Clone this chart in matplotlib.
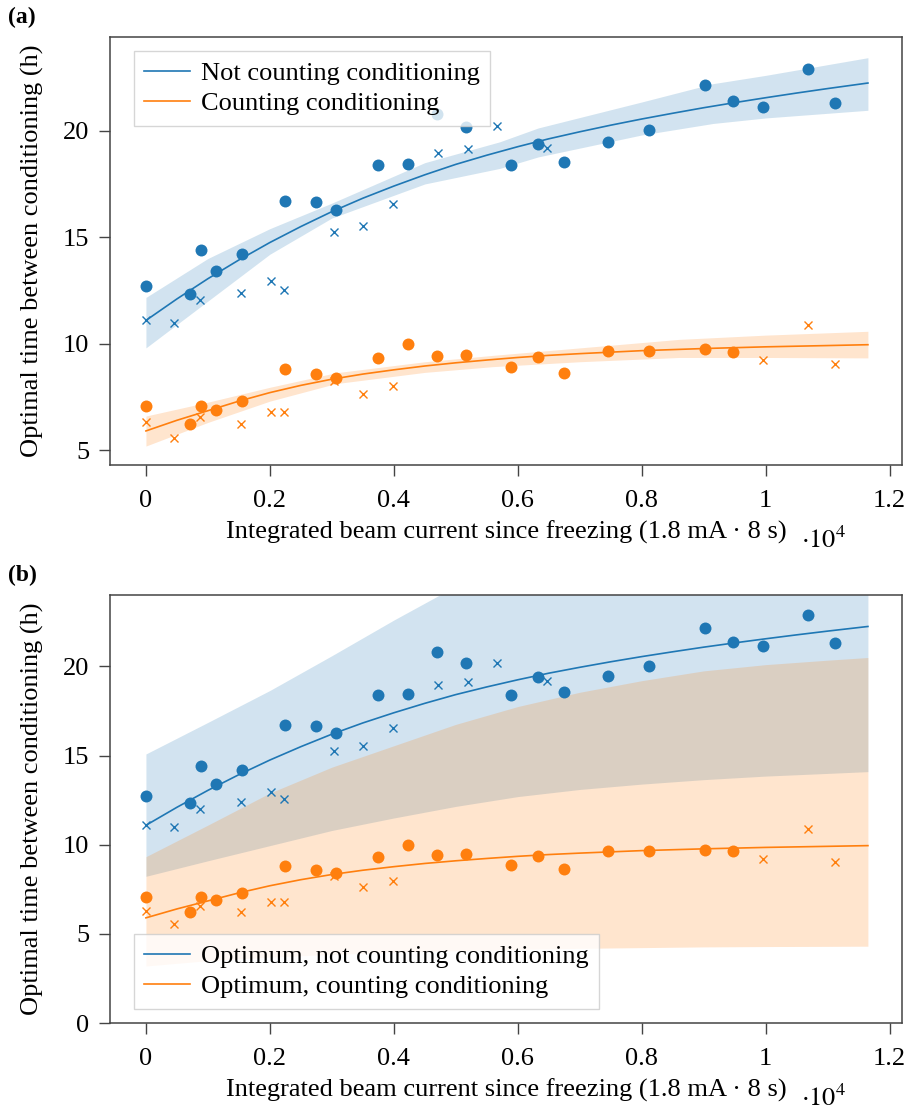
import numpy as np
import matplotlib
matplotlib.use("Agg")
import matplotlib.pyplot as plt
from matplotlib.ticker import FuncFormatter

plt.rcParams['font.family'] = ['Liberation Serif', 'DejaVu Serif']
plt.rcParams['mathtext.fontset'] = 'stix'

BLUE = '#1f77b4'
ORANGE = '#ff7f0e'
FS = 19

# measured points (x in units of 1.8 mA * 8 s)
circ_x = [0, 710, 890, 1130, 1550, 2250, 2740, 3060, 3750, 4230, 4700,
          5170, 5890, 6330, 6740, 7460, 8120, 9020, 9480, 9950, 10680, 11120]
circ_blue = [12.73, 12.33, 14.40, 13.39, 14.2, 16.71, 16.64, 16.29, 18.38, 18.44, 20.8,
             20.19, 18.38, 19.38, 18.54, 19.46, 20.05, 22.13, 21.38, 21.13, 22.88, 21.3]
circ_orange = [7.06, 6.24, 7.06, 6.89, 7.30, 8.81, 8.56, 8.39, 9.31, 9.97, 9.41,
               9.47, 8.89, 9.39, 8.64, 9.64, 9.64, 9.73, 9.63]

cross_x_blue = [0, 450, 870, 1540, 2020, 2220, 3040, 3500, 3980, 4710, 5200, 5670, 6470]
cross_blue = [11.12, 10.97, 12.03, 12.39, 12.96, 12.54, 15.23, 15.53, 16.56, 18.96, 19.13, 20.2, 19.21]
cross_x_orange = [0, 450, 870, 1540, 2020, 2220, 3040, 3500, 3980, 9950, 10680, 11120]
cross_orange = [6.31, 5.55, 6.55, 6.24, 6.80, 6.80, 8.23, 7.64, 7.99, 9.22, 10.89, 9.05]

# fitted optimum curves
fit_x = [0, 500, 1000, 1500, 2000, 2500, 3000, 3500, 4000, 4500, 5000, 5500,
         6000, 6500, 7000, 7500, 8000, 8500, 9000, 9500, 10000, 10500, 11000, 11650]
fit_blue = [11.09, 12.1, 13.05, 13.93, 14.75, 15.5, 16.2, 16.83, 17.4, 17.93, 18.42, 18.85,
            19.25, 19.62, 19.95, 20.26, 20.55, 20.82, 21.08, 21.32, 21.55, 21.77, 21.98, 22.24]
fit_orange = [5.9, 6.4, 6.85, 7.3, 7.7, 8.04, 8.33, 8.57, 8.77, 8.95, 9.1, 9.23,
              9.35, 9.45, 9.53, 9.6, 9.67, 9.72, 9.77, 9.81, 9.85, 9.88, 9.91, 9.95]

# panel (a) uncertainty bands
band_a_bx = [0, 1000, 2000, 3000, 4500, 5710, 6330, 8000, 9150, 10000, 11650]
band_a_blue_lo = [9.8, 12.0, 14.2, 15.9, 17.5, 18.23, 18.77, 19.8, 20.34, 20.6, 20.96]
band_a_blue_hi = [12.17, 14.0, 15.4, 16.6, 18.5, 19.48, 20.13, 21.35, 22.21, 22.6, 23.43]
band_a_ox = [0, 1000, 2000, 3060, 4500, 5600, 7000, 8600, 10000, 11650]
band_a_orange_lo = [5.19, 6.3, 7.3, 8.12, 8.65, 8.92, 9.15, 9.35, 9.35, 9.33]
band_a_orange_hi = [6.6, 7.25, 7.95, 8.63, 9.15, 9.45, 9.8, 10.2, 10.4, 10.58]

# panel (b) uncertainty bands
band_b_x = [0, 1000, 2000, 3000, 4000, 5000, 6000, 7000, 8000, 9000, 10000, 11000, 11650]
band_b_blue_lo = [8.23, 9.1, 9.95, 10.8, 11.5, 12.15, 12.7, 13.1, 13.4, 13.65, 13.85, 14.0, 14.1]
band_b_blue_hi = [15.09, 16.86, 18.65, 20.6, 22.6, 24.5, 26.0, 27.3, 28.5, 29.6, 30.6, 31.5, 32.0]
band_b_orange_lo = [3.2, 3.5, 3.7, 3.85, 3.97, 4.06, 4.13, 4.19, 4.23, 4.27, 4.29, 4.3, 4.31]
band_b_orange_hi = [9.33, 11.1, 12.9, 14.35, 15.55, 16.75, 17.75, 18.55, 19.2, 19.75, 20.1, 20.35, 20.5]

XLABEL = 'Integrated beam current since freezing (1.8 mA \u00b7 8 s)'
YLABEL = 'Optimal time between conditioning (h)'


def style_axes(ax, ylim, yticks):
    ax.set_xlim(-580, 12200)
    ax.set_ylim(*ylim)
    ax.set_xticks(np.arange(0, 12001, 2000))
    ax.set_yticks(yticks)
    ax.xaxis.set_major_formatter(FuncFormatter(lambda v, p: f"{v / 1e4:g}"))
    ax.tick_params(direction='out', length=8, width=1, color='#444444',
                   labelsize=FS, pad=7)
    ax.tick_params(axis='x', pad=10)
    for s in ax.spines.values():
        s.set_color('#444444')
        s.set_linewidth(1.1)
    ax.set_xlabel(XLABEL, fontsize=FS)
    ax.set_ylabel(YLABEL, fontsize=FS)
    ax.xaxis.label.set_va('baseline')
    ax.xaxis.set_label_coords(0.5, -0.171)
    ax.yaxis.set_label_coords(-0.083, 0.5)
    ax.text(0.872, -0.193, r'$\cdot 10^{4}$', transform=ax.transAxes,
            fontsize=FS, ha='left', va='baseline')


def draw_points(ax):
    ax.plot(circ_x, circ_blue, 'o', color=BLUE, ms=8.6, mec='none', zorder=3)
    ax.plot(circ_x[:len(circ_orange)], circ_orange, 'o', color=ORANGE, ms=8.6,
            mec='none', zorder=3)
    ax.plot(cross_x_blue, cross_blue, 'x', color=BLUE, ms=6, mew=1, zorder=3)
    ax.plot(cross_x_orange, cross_orange, 'x', color=ORANGE, ms=6, mew=1, zorder=3)


leg_kw = dict(fontsize=FS, fancybox=False, framealpha=0.8, edgecolor='#cccccc',
              borderpad=0.4, labelspacing=0.25, handlelength=1.75,
              handletextpad=0.4, borderaxespad=0)

fig = plt.figure(figsize=(9.09, 11.09), dpi=100)

# (a)
ax1 = fig.add_axes([0.121, 0.5807, 0.8713, 0.3859])
ax1.fill_between(band_a_bx, band_a_blue_lo, band_a_blue_hi, color=BLUE, alpha=0.2,
                 lw=0, zorder=1)
ax1.fill_between(band_a_ox, band_a_orange_lo, band_a_orange_hi, color=ORANGE,
                 alpha=0.2, lw=0, zorder=1)
ax1.plot(fit_x, fit_blue, color=BLUE, lw=1.2, zorder=2, label='Not counting conditioning')
ax1.plot(fit_x, fit_orange, color=ORANGE, lw=1.2, zorder=2, label='Counting conditioning')
draw_points(ax1)
style_axes(ax1, (4.3, 24.4), [5, 10, 15, 20])
ax1.legend(loc='upper left', bbox_to_anchor=(0.03, 0.967), **leg_kw)

# (b)
ax2 = fig.add_axes([0.121, 0.0775, 0.8713, 0.3859])
ax2.fill_between(band_b_x, band_b_blue_lo, band_b_blue_hi, color=BLUE, alpha=0.2,
                 lw=0, zorder=1)
ax2.fill_between(band_b_x, band_b_orange_lo, band_b_orange_hi, color=ORANGE,
                 alpha=0.2, lw=0, zorder=1)
ax2.plot(fit_x, fit_blue, color=BLUE, lw=1.2, zorder=2,
         label='Optimum, not counting conditioning')
ax2.plot(fit_x, fit_orange, color=ORANGE, lw=1.2, zorder=2,
         label='Optimum, counting conditioning')
draw_points(ax2)
style_axes(ax2, (0, 24), [0, 5, 10, 15, 20])
ax2.legend(loc='lower left', bbox_to_anchor=(0.03, 0.033), **leg_kw)

fig.text(0.009, 0.984, '(a)', fontsize=17, fontweight='bold', va='center')
fig.text(0.009, 0.481, '(b)', fontsize=17, fontweight='bold', va='center')

fig.savefig('out.png', dpi=100)
